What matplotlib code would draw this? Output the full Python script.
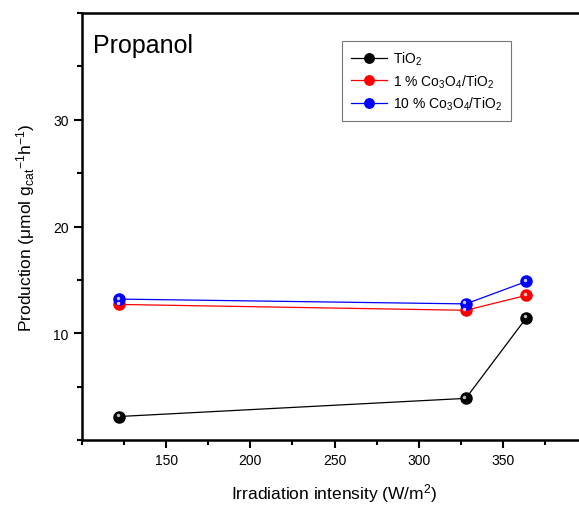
import matplotlib
matplotlib.use("Agg")
import matplotlib.pyplot as plt
import matplotlib.transforms as mtransforms
from matplotlib.ticker import MultipleLocator

plt.rcParams["font.family"] = ["Liberation Sans", "DejaVu Sans"]
plt.rcParams["mathtext.fontset"] = "custom"
plt.rcParams["mathtext.rm"] = "Liberation Sans"
plt.rcParams["mathtext.it"] = "Liberation Sans:italic"

# data
intensity = [122, 328, 364]
tio2 = [2.2, 3.9, 11.45]
co_1 = [12.7, 12.15, 13.55]
co_10 = [13.2, 12.75, 14.85]
labels = [r"TiO$_\mathregular{2}$",
          r"1 % Co$_\mathregular{3}$O$_\mathregular{4}$/TiO$_\mathregular{2}$",
          r"10 % Co$_\mathregular{3}$O$_\mathregular{4}$/TiO$_\mathregular{2}$"]
colors = ["black", "red", "blue"]
highlights = ["#bbbbbb", "#ffc8c8", "#c8c8ff"]

W, H = 579, 506
fig = plt.figure(figsize=(W / 100, H / 100), dpi=100)
# right spine sits past the figure edge in the reference (cropped)
ax = fig.add_axes([82 / W, 1 - 441 / H, (587 - 82) / W, (441 - 14) / H])

shift = mtransforms.ScaledTranslation(-1.5 / 100, 1.5 / 100, fig.dpi_scale_trans)
for ys, lab, col, hl in zip([tio2, co_1, co_10], labels, colors, highlights):
    ax.plot(intensity, ys, color=col, lw=0.9, marker="o", ms=8,
            mfc=col, mec=col, label=lab, zorder=3)
    ax.plot(intensity, ys, ls="none", marker="o", ms=2.5, mfc=hl, mec="none",
            transform=ax.transData + shift, zorder=4)

ax.set_xlim(100, 400)
ax.set_ylim(0, 40)
ax.xaxis.set_major_locator(MultipleLocator(50))
ax.xaxis.set_minor_locator(MultipleLocator(25))
ax.yaxis.set_major_locator(MultipleLocator(10))
ax.yaxis.set_minor_locator(MultipleLocator(5))
ax.set_yticks([10, 20, 30])
ax.set_xticks([150, 200, 250, 300, 350])
ax.tick_params(which="major", direction="out", length=6, width=1.5, labelsize=10)
ax.tick_params(which="minor", direction="out", length=3.5, width=1.5)
for sp in ax.spines.values():
    sp.set_linewidth(1.8)
ax.spines["right"].set_visible(False)

ax.set_xlabel(r"Irradiation intensity (W/m$^\mathregular{2}$)", fontsize=12.5, labelpad=10)
ax.set_ylabel(r"Production ($\mathregular{\mu}$mol g$_\mathregular{cat}$$^\mathregular{-1}$h$^\mathregular{-1}$)",
              fontsize=12.5, labelpad=12)
fig.text(93 / W, 1 - 53 / H, "Propanol", fontsize=18)

leg = ax.legend(loc="upper left", bbox_to_anchor=(342 / W, 1 - 42 / H),
                bbox_transform=fig.transFigure, fontsize=10, frameon=True,
                fancybox=False, edgecolor="#555555", handlelength=2.6,
                borderpad=0.65, labelspacing=0.35, handletextpad=0.4,
                markerscale=0.85, borderaxespad=0)
leg.get_frame().set_linewidth(0.8)

fig.savefig("out.png", dpi=100)
